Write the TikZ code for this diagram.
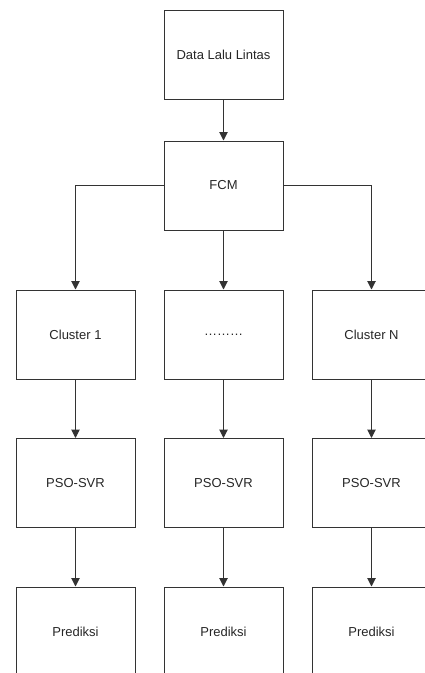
\documentclass[tikz,border=0pt]{standalone}
\usepackage{fontspec}
\setmainfont{Liberation Sans}
\usetikzlibrary{arrows.meta}
\tikzset{
  blk/.style={draw=black!80, line width=1pt, rectangle, minimum width=119pt, minimum height=89pt, inner sep=0pt, font=\fontsize{13pt}{15pt}\selectfont, text=black!85},
  conn/.style={draw=black!80, line width=1pt, -{Triangle[width=8.5pt,length=8.5pt]}}
}
\begin{document}
\begin{tikzpicture}[x=1pt,y=-1pt]
\useasboundingbox (0,0) rectangle (425,673);
\clip (0,0) rectangle (425,673);
\node[blk] (data) at (223.5,55) {Data Lalu Lintas};
\node[blk] (fcm) at (223.5,185.5) {FCM};
\node[blk] (c1) at (75.5,334.5) {Cluster 1};
\node[blk] (c2) at (223.5,334.5) {………};
\node[blk] (c3) at (371.5,334.5) {Cluster N};
\node[blk] (p1) at (75.5,483) {PSO-SVR};
\node[blk] (p2) at (223.5,483) {PSO-SVR};
\node[blk] (p3) at (371.5,483) {PSO-SVR};
\node[blk] (r1) at (75.5,631.5) {Prediksi};
\node[blk] (r2) at (223.5,631.5) {Prediksi};
\node[blk] (r3) at (371.5,631.5) {Prediksi};
\draw[conn] (data) -- (fcm);
\draw[conn] (fcm.west) -| (c1.north);
\draw[conn] (fcm) -- (c2);
\draw[conn] (fcm.east) -| (c3.north);
\draw[conn] (c1) -- (p1);
\draw[conn] (c2) -- (p2);
\draw[conn] (c3) -- (p3);
\draw[conn] (p1) -- (r1);
\draw[conn] (p2) -- (r2);
\draw[conn] (p3) -- (r3);
\end{tikzpicture}
\end{document}
